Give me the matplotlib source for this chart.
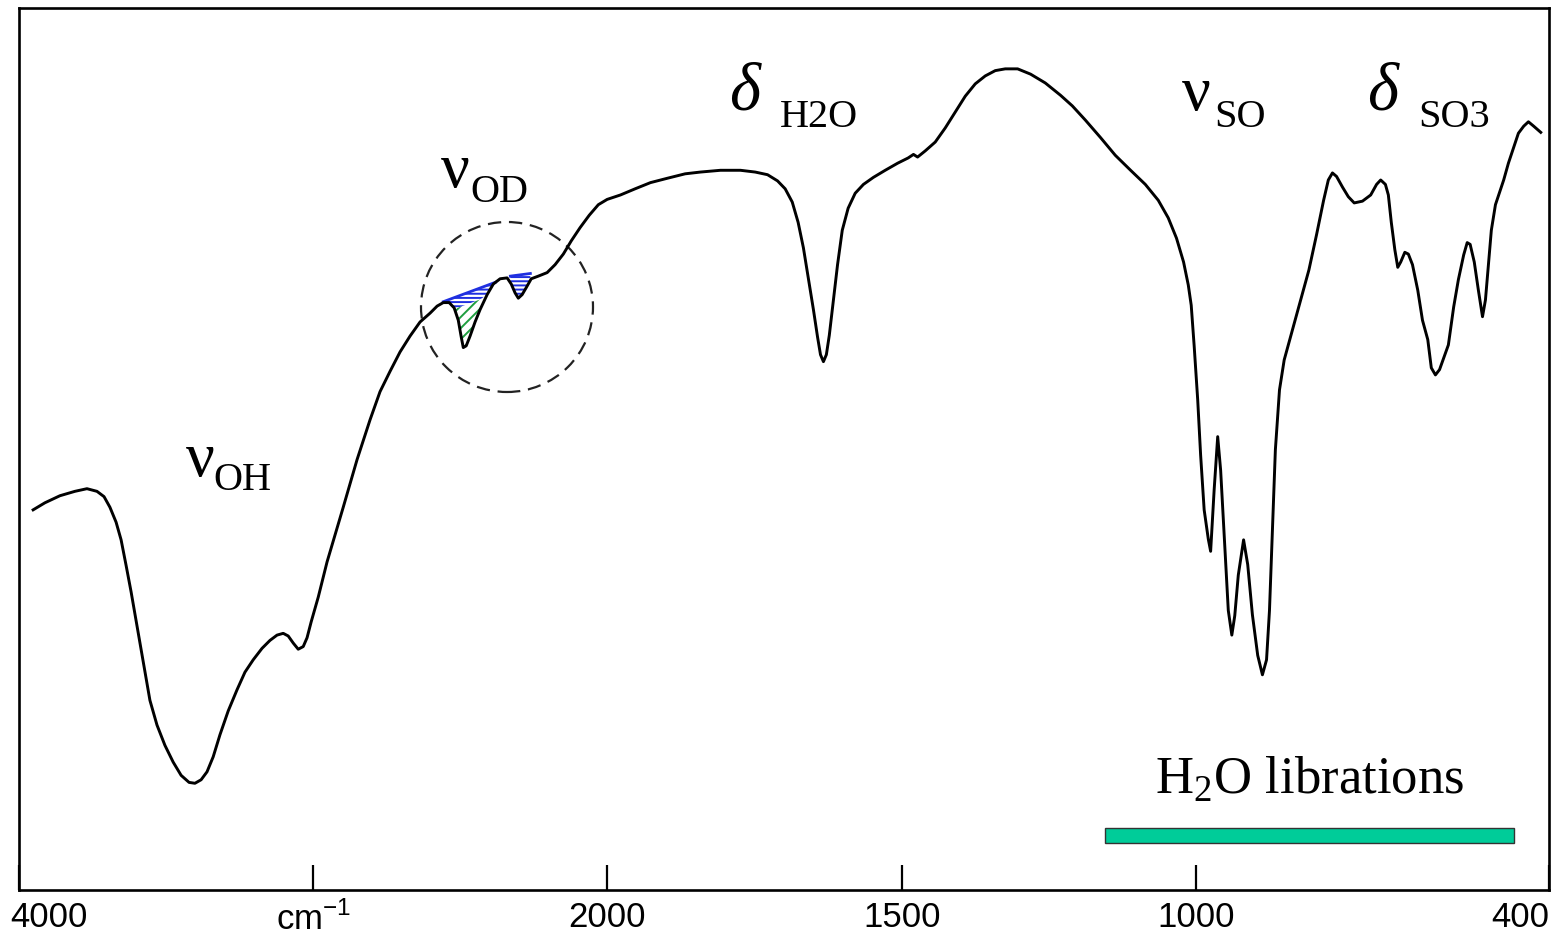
import matplotlib
matplotlib.use('Agg')
import matplotlib.pyplot as plt
from matplotlib.patches import Ellipse, Rectangle
from matplotlib.transforms import ScaledTranslation
import numpy as np

plt.rcParams['hatch.linewidth'] = 1.4

# IR spectrum: wavenumber (cm-1) and transmittance (%)
wavenumber = [3952, 3912, 3861, 3810, 3769, 3735, 3711, 3691, 3670, 3653,
              3636, 3619, 3589, 3555, 3531, 3504, 3476, 3449, 3422, 3402,
              3381, 3361, 3340, 3317, 3289, 3259, 3232, 3204, 3174, 3147,
              3123, 3102, 3085, 3068, 3051, 3034, 3021, 3007, 2983, 2953,
              2898, 2851, 2807, 2773, 2739, 2705, 2671, 2637, 2603, 2579,
              2558, 2538, 2521, 2507, 2497, 2490, 2480, 2467, 2450, 2433,
              2409, 2388, 2365, 2341, 2327, 2314, 2303, 2290, 2276, 2259,
              2235, 2205, 2178, 2150, 2123, 2093, 2062, 2031, 2001,
              1978, 1953, 1927, 1898, 1868, 1842, 1808, 1774, 1749, 1728,
              1711, 1698, 1686, 1676, 1667, 1659, 1650, 1643, 1638, 1633,
              1628, 1623, 1616, 1609, 1601, 1591, 1579, 1565, 1548, 1528,
              1507, 1489, 1480, 1473, 1460, 1443, 1426, 1409, 1392, 1375,
              1358, 1341, 1324, 1303, 1281, 1256, 1230, 1210, 1188, 1162,
              1137, 1111, 1086, 1064, 1047, 1033, 1021, 1013, 1008, 1003,
              997, 992, 986, 979, 975, 969, 963, 958, 951, 945,
              939, 934, 928, 919, 912, 904, 895, 887, 880, 875,
              870, 865, 858, 850, 836, 822, 808, 795, 783, 775,
              768, 761, 751, 741, 731, 717, 703, 693, 686, 678,
              673, 668, 662, 657, 652, 645, 639, 632, 623, 615,
              606, 600, 593, 586, 579, 571, 562, 554, 545, 539,
              534, 527, 520, 513, 508, 503, 498, 491, 484, 477,
              469, 460, 452, 443, 435, 426, 414]
transmittance = [43.1, 43.9, 44.7, 45.2, 45.5, 45.2, 44.6, 43.4, 41.7, 39.7,
                 36.8, 33.8, 28.0, 21.5, 18.7, 16.4, 14.5, 13.0, 12.2, 12.1,
                 12.5, 13.4, 15.1, 17.6, 20.3, 22.7, 24.7, 26.1, 27.4, 28.3,
                 28.9, 29.1, 28.8, 28.0, 27.3, 27.6, 28.6, 30.4, 33.2, 37.2,
                 43.4, 48.8, 53.3, 56.5, 58.8, 61.0, 62.8, 64.4, 65.4, 66.2,
                 66.6, 66.6, 66.0, 64.6, 62.7, 61.5, 61.7, 62.8, 64.4, 65.8,
                 67.5, 68.7, 69.3, 69.4, 68.7, 67.7, 67.1, 67.5, 68.3, 69.3,
                 69.6, 70.0, 70.9, 72.1, 73.6, 75.1, 76.5, 77.7, 78.3,
                 78.8, 79.5, 80.2, 80.7, 81.2, 81.4, 81.6, 81.6, 81.4, 81.1,
                 80.4, 79.5, 78.0, 75.7, 72.8, 69.5, 65.8, 62.7, 60.7, 59.9,
                 60.7, 62.9, 66.9, 70.9, 74.8, 77.3, 79.0, 80.0, 80.8, 81.6,
                 82.4, 83.0, 83.4, 83.1, 83.8, 84.8, 86.4, 88.2, 90.0, 91.4,
                 92.3, 92.9, 93.1, 93.1, 92.5, 91.5, 90.1, 88.9, 87.3, 85.3,
                 83.3, 81.6, 80.0, 78.2, 76.2, 73.9, 71.2, 68.6, 66.3, 61.7,
                 55.6, 49.3, 43.1, 39.8, 38.4, 45.4, 51.4, 47.6, 39.1, 31.7,
                 28.9, 31.1, 35.7, 39.7, 36.9, 31.2, 26.6, 24.4, 26.1, 31.7,
                 40.8, 49.9, 56.7, 60.1, 63.5, 66.9, 70.3, 74.3, 78.2, 80.5,
                 81.3, 80.9, 79.7, 78.6, 77.9, 78.1, 78.8, 80.0, 80.5, 80.0,
                 78.8, 75.7, 72.6, 70.6, 71.2, 72.3, 72.1, 70.9, 68.0, 64.6,
                 62.4, 59.2, 58.4, 59.0, 60.3, 61.8, 66.1, 69.2, 72.0, 73.4,
                 73.2, 71.2, 68.0, 65.0, 66.9, 70.9, 74.8, 77.7, 79.1, 80.5,
                 82.4, 84.2, 85.8, 86.6, 87.1, 86.6, 85.9]

tick_pos = [4000, 3000, 2000, 1500, 1000, 400]
tick_labels = ['4000', 'cm$^{\\mathregular{-1}}$', '2000', '1500', '1000', '400']

# O-D bands, hand drawn baselines on the original
od_base1 = ([2558, 2381], [66.7, 68.9])
od_base2 = ([2330, 2262], [69.6, 69.9])
libration_band = (1154, 460)

W, H = 1562, 934
fig = plt.figure(figsize=(W / 100, H / 100), dpi=100)
ax = fig.add_axes([19 / W, 44 / H, 1530 / W, 882 / H])


# chart paper: scale is compressed by 2 above 2000 cm-1
def fwd(w):
    w = np.asarray(w, dtype=float)
    return np.where(w > 2000, 2000 + (w - 2000) / 2, w)


def inv(u):
    u = np.asarray(u, dtype=float)
    return np.where(u > 2000, 2000 + (u - 2000) * 2, u)


ax.set_xscale('function', functions=(fwd, inv))
ax.set_xlim(4000, 400)
ax.set_ylim(0, 100)

wn = np.array(wavenumber)
tr = np.array(transmittance)
blue = '#1f2fe0'
green = '#1f9e3f'

# hatched O-D bands
m1 = (wn <= od_base1[0][0]) & (wn >= od_base1[0][1])
x1 = np.concatenate(([od_base1[0][0]], wn[m1], [od_base1[0][1]]))
c1 = np.interp(x1, wn[::-1], tr[::-1])
b1 = np.interp(x1, od_base1[0][::-1], od_base1[1][::-1])
low = b1 - 1.3
ax.fill_between(x1, c1, low, where=c1 < low, facecolor='none', edgecolor=green,
                hatch='///', linewidth=0, interpolate=True)
ax.fill_between(x1, np.maximum(c1, low), b1, facecolor='none', edgecolor=blue,
                hatch='----', linewidth=0)
ax.plot(od_base1[0], od_base1[1], color=blue, lw=2)

m2 = (wn <= od_base2[0][0]) & (wn >= od_base2[0][1])
x2 = np.concatenate(([od_base2[0][0]], wn[m2], [od_base2[0][1]]))
c2 = np.interp(x2, wn[::-1], tr[::-1])
b2 = np.interp(x2, od_base2[0][::-1], od_base2[1][::-1])
ax.fill_between(x2, np.minimum(c2, b2), b2, facecolor='none', edgecolor=blue,
                hatch='----', linewidth=0)
ax.plot(od_base2[0], od_base2[1], color=blue, lw=2)

ax.plot(wn, tr, color='black', lw=2.1, solid_joinstyle='round')

# dashed circle round the O-D bands
ax.add_patch(Ellipse(((507 - 19) / 1530, (890 - 307) / 882), 172 / 1530, 170 / 882,
                     transform=ax.transAxes, fill=False, ls=(0, (6, 3.5)),
                     lw=1.6, color='#222222'))

# libration bar
ax.add_patch(Rectangle((libration_band[0], 5.3), libration_band[1] - libration_band[0], 1.7,
                       facecolor='#00cc99', edgecolor='#333333', lw=1))

for s in ax.spines.values():
    s.set_linewidth(1.9)
ax.set_yticks([])
ax.set_xticks(tick_pos)
ax.set_xticklabels(tick_labels, fontfamily='Liberation Sans', fontsize=25)
ax.tick_params(axis='x', direction='in', length=18, width=1.6, pad=8)
labs = ax.get_xticklabels()
labs[0].set_ha('left')
labs[0].set_transform(labs[0].get_transform() + ScaledTranslation(-0.09, 0, fig.dpi_scale_trans))
labs[-1].set_ha('right')


def ftext(x, y, s, size, style='normal'):
    fig.text(x / W, 1 - y / H, s, fontsize=size, fontfamily='Liberation Serif',
             fontstyle=style, va='baseline', ha='left')


ftext(186, 476, 'ν', 46)
ftext(213, 490, 'OH', 29)
ftext(441, 187, 'ν', 46)
ftext(470, 202, 'OD', 29)
ftext(729, 110, 'δ', 48, 'italic')
ftext(780, 127, 'H2O', 29)
ftext(1182, 110, 'ν', 46)
ftext(1214, 127, 'SO', 29)
ftext(1367, 110, 'δ', 48, 'italic')
ftext(1418, 127, 'SO3', 29)
ftext(1155, 793, 'H$_{\\mathregular{2}}$O librations', 38)

fig.savefig('out.png', dpi=100)
